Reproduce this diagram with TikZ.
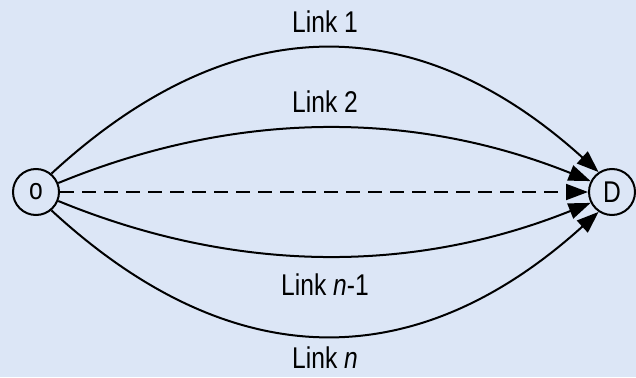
\documentclass[tikz,border=0pt]{standalone}
\usepackage{fontspec}
\setmainfont[FakeStretch=0.82]{Liberation Sans}
\usetikzlibrary{arrows.meta}
\definecolor{bgblue}{RGB}{220,230,246}
\tikzset{
  endpt/.style={circle, draw, line width=2pt, minimum size=46pt, inner sep=0pt, font=\fontsize{30}{32}\selectfont},
  linklabel/.style={font=\fontsize{30}{32}\selectfont, inner sep=0pt},
  linkarc/.style={line width=2pt, -{Triangle[length=22pt,width=16pt]}},
}
\begin{document}
\begin{tikzpicture}[x=1pt,y=-1pt]
\fill[bgblue] (0,0) rectangle (636,377);
\useasboundingbox (0,0) rectangle (636,377);
\node[endpt] (O) at (36,192) {o};
\node[endpt] (D) at (612,192) {D};
\node[linklabel] (l1) at (325,22) {Link 1};
\node[linklabel] (l2) at (325,102) {Link 2};
\node[linklabel] (l3) at (325,285) {Link \textit{n}-1};
\node[linklabel] (l4) at (325,358) {Link \textit{n}};
\draw[linkarc] (O.50) .. controls (232,7) and (416,7) .. (D.124);
\draw[linkarc] (O.22) .. controls (236,110) and (413,110) .. (D.153);
\draw[linkarc, dash pattern=on 14pt off 8pt] (O.east) -- (D.west);
\draw[linkarc] (O.-22) .. controls (236,274) and (413,274) .. (D.-153);
\draw[linkarc] (O.-50) .. controls (232,377) and (416,377) .. (D.-124);
\end{tikzpicture}
\end{document}
